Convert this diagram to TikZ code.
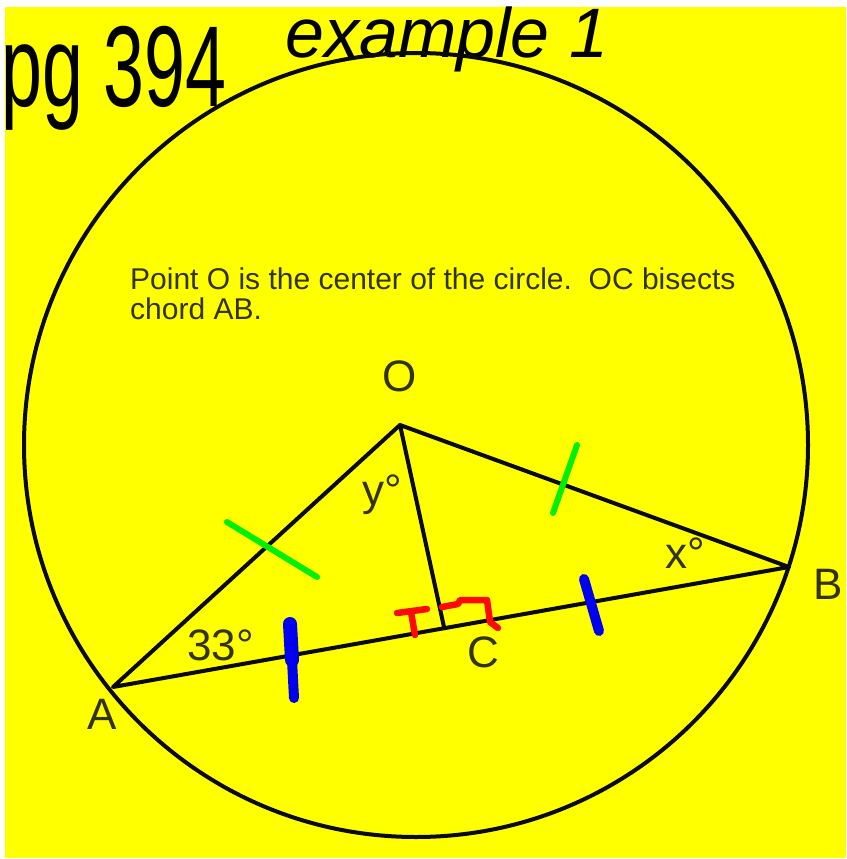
\documentclass[tikz,border=0pt]{standalone}
\usepackage{fontspec}
\setmainfont{Liberation Sans}
\usetikzlibrary{calc}
\definecolor{NByellow}{HTML}{FFFF00}
\definecolor{NBink}{HTML}{0A0A0A}
\definecolor{NBtext}{HTML}{333300}
\definecolor{NBgreen}{HTML}{00F000}
\definecolor{NBblue}{HTML}{0000F0}
\definecolor{NBred}{HTML}{FF0A00}
\newcommand{\notefont}{\fontsize{30}{30}\selectfont}
\newcommand{\ptfont}{\fontsize{44}{44}\selectfont}
\newcommand{\handfont}{\fontsize{115}{115}\selectfont}

\begin{document}
\begin{tikzpicture}[x=1pt, y=-1pt, line cap=round, line join=round,
    seg/.style={NBink, line width=4pt},
    lbl/.style={NBtext, font=\ptfont, inner sep=0pt},
    greenmark/.style={NBgreen, line width=6pt},
    bluemark/.style={NBblue, line width=12pt},
    redmark/.style={NBred, line width=6.5pt}]
    \useasboundingbox (0,0) rectangle (846,859);
    % yellow page
    \fill[NByellow] (5,7) rectangle (846,858);
    % handwritten heading
    \node[anchor=base west, inner sep=0pt] (pg) at (1,106) {\handfont\scalebox{0.64}[1]{pg 394}};
    \node[anchor=base west, inner sep=0pt] (ex) at (285,58) {\fontsize{70}{70}\selectfont\itshape example 1};
    % the circle
    \draw[seg] (416,445) circle[radius=392];
    % points
    \coordinate (O) at (400,425);
    \coordinate (A) at (113,687);
    \coordinate (B) at (789,567);
    \coordinate (C) at ($(A)!0.49!(B)$);
    % triangle and bisector
    \draw[seg] (A) -- (O) -- (B) -- cycle;
    \draw[seg] (O) -- (C);
    % note
    \node[anchor=north west, align=left, NBtext, font=\notefont, inner sep=0pt] (note) at (130,268)
        {Point O is the center of the circle.\ \ OC bisects\\chord AB.};
    % vertex labels
    \node[lbl] (labO) at (400,376) {O};
    \node[lbl] (labA) at (102,714) {A};
    \node[lbl] (labB) at (828,584) {B};
    \node[lbl] (labC) at (483,652) {C};
    % angle labels
    \node[lbl, anchor=base west] (ang33) at (187,660) {33°};
    \node[lbl, anchor=base west] (angy) at (362,505) {y°};
    \node[lbl, anchor=base west] (angx) at (665,568) {x°};
    % equal radii
    \draw[greenmark] (227,522) -- (317,577);
    \draw[greenmark] (577,445) -- (553,513);
    % equal halves of the chord
    \draw[bluemark, line width=14pt] (290,624) -- (292,660);
    \draw[bluemark, line width=10pt] (292,660) -- (294,698);
    \draw[bluemark, line width=10pt] (584,579) -- (599,631);
    % right angle at C
    \draw[redmark] (397,613) -- (427,609);
    \draw[redmark] (411,612) -- (415,635);
    \draw[redmark] (442,607) -- (458,604) -- (460,600) -- (487,600) -- (490,622) -- (498,628);
\end{tikzpicture}
\end{document}
